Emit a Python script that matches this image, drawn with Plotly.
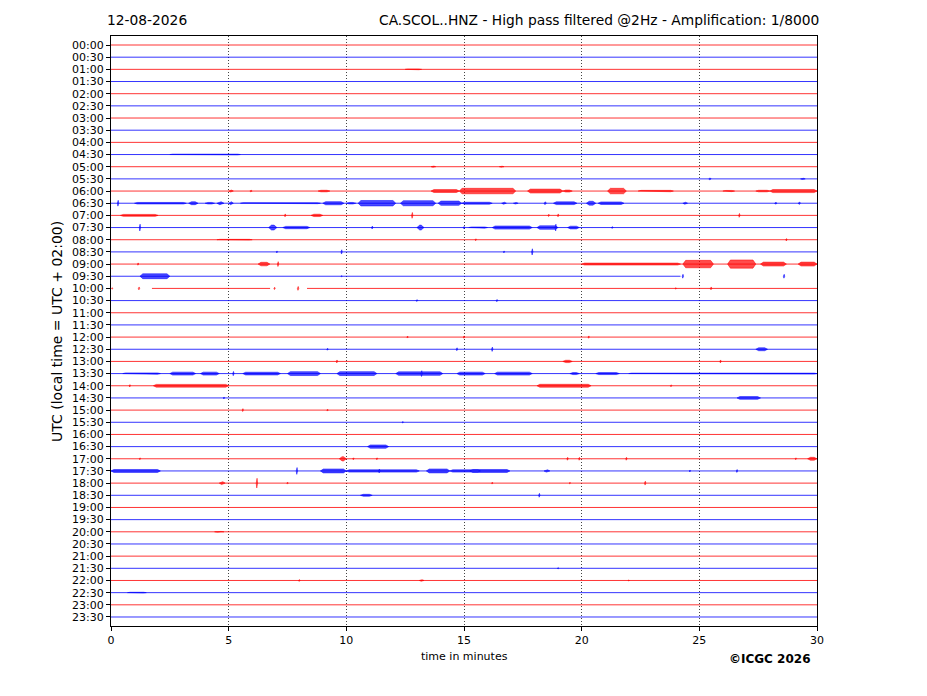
import plotly.graph_objects as go

# ---------------- data ----------------
row_labels = ["00:00", "00:30", "01:00", "01:30", "02:00", "02:30", "03:00", "03:30",
              "04:00", "04:30", "05:00", "05:30", "06:00", "06:30", "07:00", "07:30",
              "08:00", "08:30", "09:00", "09:30", "10:00", "10:30", "11:00", "11:30",
              "12:00", "12:30", "13:00", "13:30", "14:00", "14:30", "15:00", "15:30",
              "16:00", "16:30", "17:00", "17:30", "18:00", "18:30", "19:00", "19:30",
              "20:00", "20:30", "21:00", "21:30", "22:00", "22:30", "23:00", "23:30"]
row_colors = ["#ff0000", "#0000ff"]          # alternating trace colours
x_ticks = [0, 5, 10, 15, 20, 25, 30]

# rows whose trace has data gaps: (row, start_min, end_min) of recorded segments
seg_row = [19, 20, 20]
seg_start = [0.0, 1.74, 8.33]
seg_end = [24.2, 6.76, 30.0]

# bursts of ground motion: (row, start minute, end minute, half-amplitude in row units)
bursts = [
    (2, 12.5, 13.2, 0.04), (9, 2.5, 5.5, 0.04), (10, 13.6, 13.8, 0.06), (10, 16.5, 16.7, 0.05),
    (11, 25.4, 25.5, 0.1), (11, 29.3, 29.5, 0.06),
    (12, 5.0, 5.2, 0.1), (12, 5.9, 6.0, 0.08), (12, 8.8, 9.3, 0.08), (12, 13.6, 14.8, 0.15),
    (12, 14.8, 17.2, 0.28), (12, 17.7, 19.2, 0.2), (12, 19.2, 19.6, 0.1), (12, 21.1, 21.9, 0.28),
    (12, 22.4, 23.9, 0.07), (12, 26.0, 26.5, 0.06), (12, 27.4, 28.0, 0.08), (12, 28.0, 30.0, 0.16),
    (13, 0.3, 0.3, 0.3), (13, 1.0, 3.2, 0.08), (13, 3.3, 3.7, 0.15), (13, 4.0, 4.4, 0.08),
    (13, 4.5, 4.8, 0.15), (13, 5.0, 5.2, 0.15), (13, 5.5, 8.9, 0.05), (13, 9.0, 9.9, 0.16),
    (13, 10.0, 10.4, 0.08), (13, 10.5, 12.1, 0.28), (13, 12.3, 13.8, 0.26), (13, 13.9, 14.9, 0.22),
    (13, 14.9, 16.2, 0.1), (13, 16.6, 16.8, 0.1), (13, 17.1, 17.3, 0.08), (13, 18.4, 18.5, 0.15),
    (13, 18.8, 19.8, 0.14), (13, 20.2, 20.6, 0.2), (13, 20.7, 21.8, 0.13), (13, 24.3, 24.5, 0.1),
    (13, 28.2, 28.3, 0.1), (13, 29.2, 29.3, 0.12),
    (14, 0.4, 2.0, 0.1), (14, 7.4, 7.4, 0.15), (14, 8.5, 9.0, 0.12), (14, 12.8, 12.8, 0.3),
    (14, 18.6, 18.6, 0.12), (14, 19.0, 19.0, 0.15), (14, 26.7, 26.7, 0.2),
    (15, 1.23, 1.23, 0.35), (15, 6.7, 7.05, 0.25), (15, 7.3, 8.45, 0.12), (15, 11.1, 11.1, 0.15),
    (15, 13.0, 13.3, 0.25), (15, 15.0, 15.0, 0.12), (15, 15.2, 16.0, 0.06), (15, 16.2, 17.9, 0.16),
    (15, 18.1, 19.0, 0.18), (15, 18.9, 18.9, 0.35), (15, 19.4, 19.9, 0.14), (15, 21.3, 21.3, 0.1),
    (16, 4.5, 6.0, 0.04), (16, 15.5, 15.5, 0.1), (16, 28.7, 28.7, 0.12),
    (17, 7.05, 7.05, 0.1), (17, 9.8, 9.8, 0.22), (17, 16.7, 16.7, 0.1), (17, 17.9, 17.9, 0.32),
    (18, 1.15, 1.15, 0.12), (18, 6.25, 6.75, 0.18), (18, 7.1, 7.1, 0.25), (18, 20.0, 24.2, 0.1),
    (18, 24.3, 25.6, 0.38), (18, 26.2, 27.4, 0.42), (18, 27.6, 28.7, 0.2), (18, 29.2, 30.0, 0.2),
    (19, 1.23, 2.5, 0.25), (19, 9.8, 9.8, 0.06), (19, 24.3, 24.3, 0.2), (19, 28.6, 28.6, 0.2),
    (20, 0.05, 0.05, 0.08), (20, 1.19, 1.19, 0.15), (20, 6.95, 6.95, 0.12), (20, 7.95, 7.95, 0.2),
    (20, 24.0, 24.0, 0.08), (20, 25.5, 25.5, 0.15),
    (21, 13.0, 13.0, 0.1), (21, 16.4, 16.4, 0.12),
    (24, 12.6, 12.6, 0.1), (24, 15.0, 15.0, 0.12), (24, 20.3, 20.3, 0.12),
    (25, 9.2, 9.2, 0.1), (25, 14.7, 14.7, 0.15), (25, 16.2, 16.2, 0.22), (25, 27.4, 27.9, 0.15),
    (26, 9.6, 9.6, 0.15), (26, 19.2, 19.6, 0.12), (26, 25.9, 25.9, 0.15),
    (27, 0.5, 2.1, 0.07), (27, 2.5, 3.6, 0.15), (27, 3.8, 4.6, 0.15), (27, 5.2, 5.2, 0.22),
    (27, 5.6, 7.2, 0.14), (27, 7.5, 8.9, 0.2), (27, 9.6, 11.3, 0.2), (27, 12.1, 14.1, 0.18),
    (27, 13.2, 13.2, 0.3), (27, 14.7, 15.9, 0.15), (27, 16.3, 17.9, 0.15), (27, 19.5, 19.9, 0.1),
    (27, 20.6, 21.6, 0.1), (27, 22.0, 30.0, 0.05),
    (28, 0.8, 0.8, 0.12), (28, 1.8, 5.0, 0.14), (28, 18.1, 20.4, 0.15), (28, 23.8, 23.8, 0.1),
    (29, 4.8, 4.8, 0.1), (29, 26.6, 27.6, 0.14),
    (30, 5.6, 5.6, 0.15), (30, 9.2, 9.2, 0.1), (31, 12.4, 12.4, 0.08),
    (33, 10.9, 11.8, 0.17),
    (34, 1.23, 1.23, 0.1), (34, 9.7, 10.0, 0.22), (34, 10.3, 10.3, 0.1), (34, 11.3, 11.3, 0.1),
    (34, 19.4, 19.4, 0.15), (34, 19.9, 19.9, 0.15), (34, 21.9, 21.9, 0.15), (34, 29.1, 29.1, 0.1),
    (34, 29.6, 30.0, 0.15),
    (35, 0.0, 2.1, 0.15), (35, 7.9, 7.9, 0.35), (35, 8.9, 10.0, 0.2), (35, 10.0, 13.1, 0.12),
    (35, 11.4, 11.4, 0.2), (35, 13.4, 14.4, 0.2), (35, 14.4, 15.7, 0.12), (35, 15.25, 16.95, 0.15),
    (35, 18.4, 18.65, 0.12), (35, 24.6, 24.6, 0.1), (35, 26.6, 26.6, 0.15),
    (36, 4.6, 4.85, 0.15), (36, 6.2, 6.2, 0.5), (36, 7.5, 7.5, 0.1), (36, 16.2, 16.2, 0.1),
    (36, 19.5, 19.5, 0.08), (36, 22.7, 22.7, 0.2),
    (37, 10.6, 11.1, 0.1), (37, 18.2, 18.2, 0.2),
    (40, 4.4, 4.8, 0.04), (43, 19.0, 19.0, 0.08),
    (44, 8.0, 8.0, 0.1), (44, 13.1, 13.3, 0.08), (44, 22.0, 22.0, 0.06), (45, 0.7, 1.5, 0.04),
]

# ---------------- build traces ----------------
AMP_SCALE = 0.8
fig = go.Figure()
n_rows = len(row_labels)
fill_alpha = {"#ff0000": "rgba(255,0,0,0.7)", "#0000ff": "rgba(0,0,255,0.7)"}

for c_idx, color in enumerate(row_colors):
    bx, by = [], []
    for r in range(c_idx, n_rows, 2):
        segs = [(s, e) for rr, s, e in zip(seg_row, seg_start, seg_end) if rr == r]
        if not segs:
            segs = [(x_ticks[0], x_ticks[-1])]
        for s, e in segs:
            bx += [s, e, None]
            by += [r, r, None]
    fig.add_trace(go.Scatter(x=bx, y=by, mode="lines", line=dict(color=color, width=0.8),
                             hoverinfo="skip", showlegend=False))

    px, py = [], []
    for r, s, e, a in bursts:
        if r % 2 != c_idx:
            continue
        a = a * AMP_SCALE
        if e - s < 0.06:
            s, e = s - 0.03, e + 0.03
        t = min(0.12, (e - s) / 2.5)
        px += [s, s + t, e - t, e, e - t, s + t, s, None]
        py += [r, r - a, r - a, r, r + a, r + a, r, None]
    fig.add_trace(go.Scatter(x=px, y=py, mode="lines", fill="toself", fillcolor=fill_alpha[color],
                             line=dict(color=color, width=0.5), hoverinfo="skip",
                             showlegend=False))

font_family = "DejaVu Sans"

fig.update_layout(
    width=927, height=696,
    margin=dict(l=111, r=110, t=36, b=70),
    paper_bgcolor="white", plot_bgcolor="white",
    font=dict(family=font_family, color="black", size=11),
    xaxis=dict(range=[0, 30], tickvals=x_ticks, ticks="outside", ticklen=4, tickcolor="black",
               showline=True, linecolor="black", linewidth=1, mirror=True,
               showgrid=True, gridcolor="#444444", griddash="1px,2px", gridwidth=0.8,
               zeroline=False, tickfont=dict(size=11)),
    yaxis=dict(range=[n_rows - 0.26, -0.74], tickvals=list(range(n_rows)), ticktext=row_labels,
               ticks="outside", ticklen=4, tickcolor="black",
               showline=True, linecolor="black", linewidth=1, mirror=True,
               showgrid=False, zeroline=False, tickfont=dict(size=11)),
    annotations=[
        dict(text="12-08-2026", xref="paper", yref="paper", x=-0.009, y=1.027,
             xanchor="left", yanchor="middle", showarrow=False, font=dict(size=13.8)),
        dict(text="CA.SCOL..HNZ - High pass filtered @2Hz - Amplification: 1/8000",
             xref="paper", yref="paper", x=1.006, y=1.027, xanchor="right", yanchor="middle",
             showarrow=False, font=dict(size=13.8)),
        dict(text="time in minutes", xref="paper", yref="paper", x=0.5, y=-0.052,
             xanchor="center", yanchor="middle", showarrow=False, font=dict(size=11)),
        dict(text="UTC (local time = UTC + 02:00)", xref="paper", yref="paper", x=-0.0765, y=0.5,
             xanchor="center", yanchor="middle", textangle=-90, showarrow=False,
             font=dict(size=14)),
        dict(text="<b>©ICGC 2026</b>", xref="paper", yref="paper", x=0.933, y=-0.056,
             xanchor="center", yanchor="middle", showarrow=False, font=dict(size=12)),
    ],
)

fig.write_html("out.html", config={"displayModeBar": False},
               post_script="document.body.style.margin='0';")
